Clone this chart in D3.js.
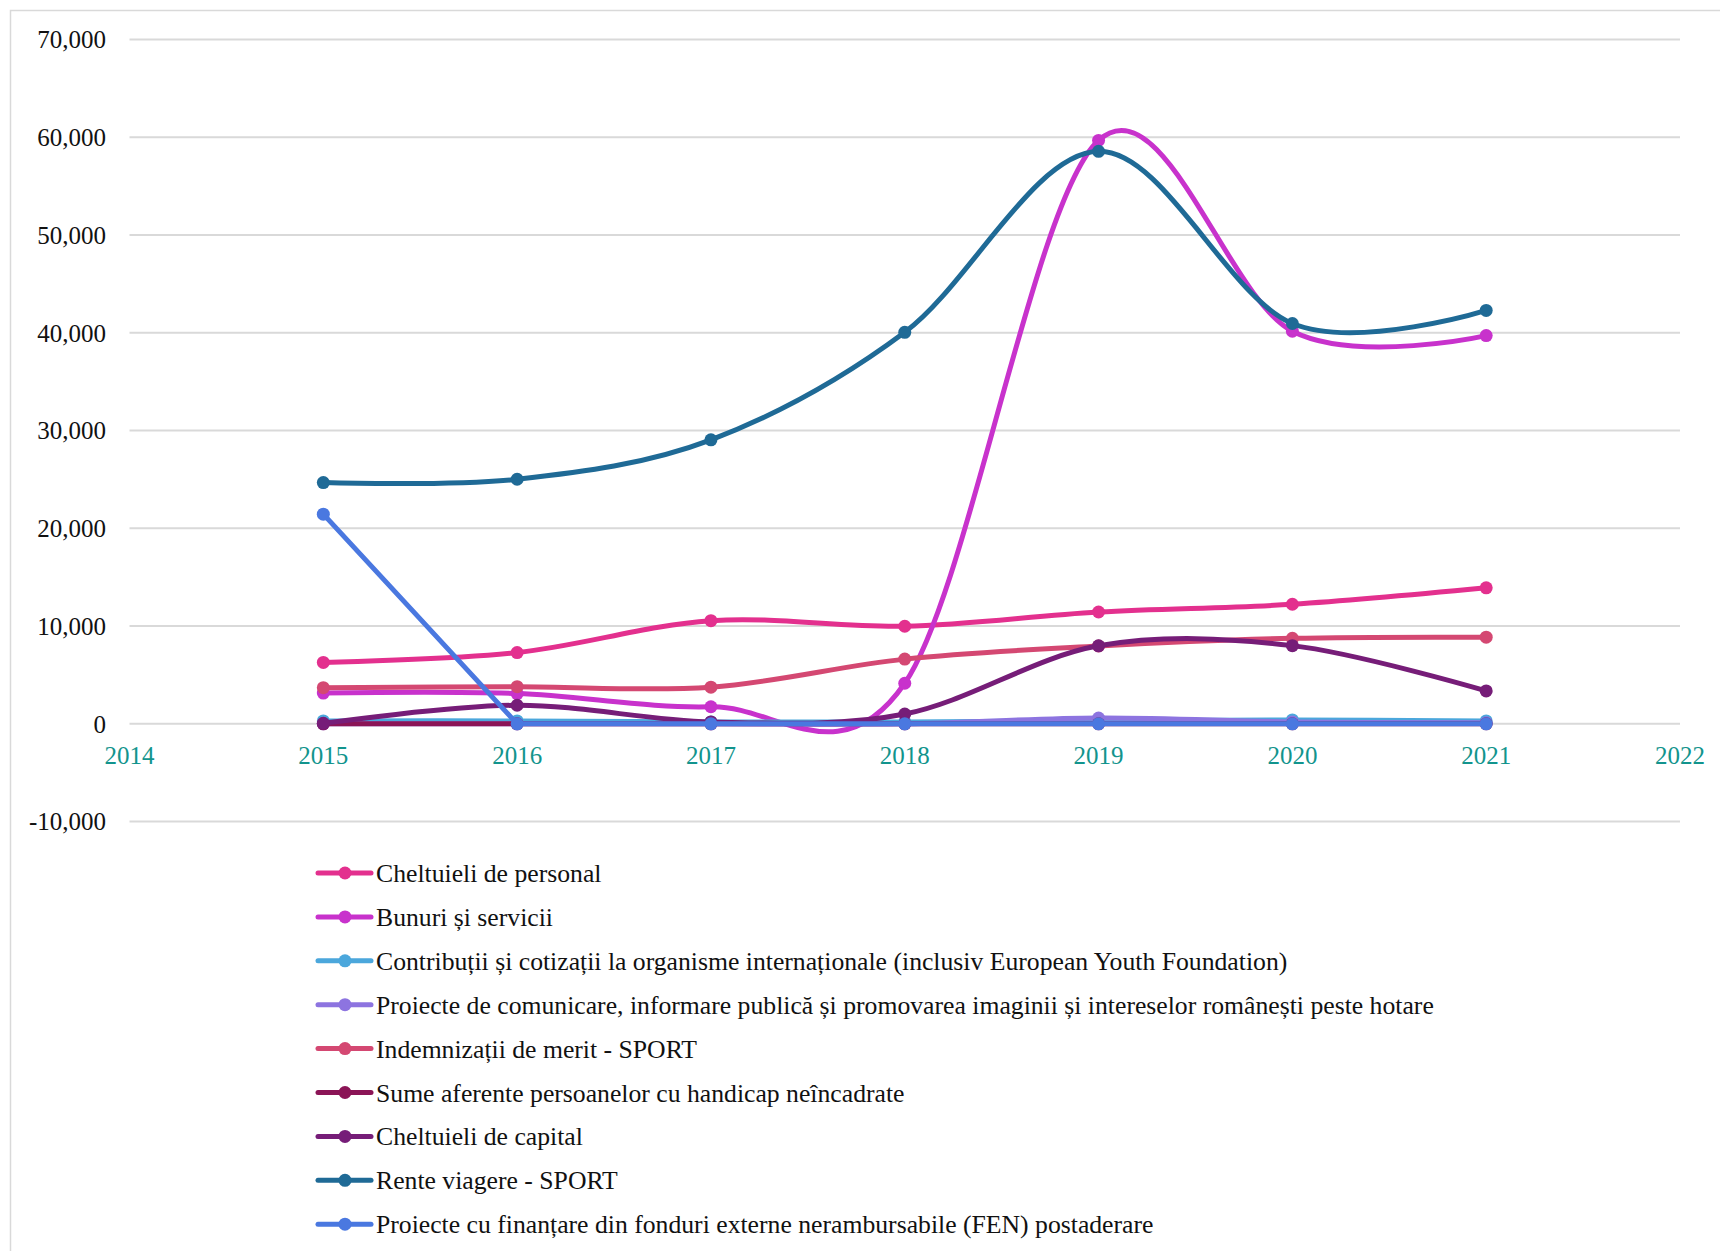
<!DOCTYPE html>
<html>
<head>
<meta charset="utf-8">
<script src="https://cdn.jsdelivr.net/npm/d3@7"></script>
<style>
  body { margin: 0; background: #fff; }
  svg text { font-family: "Liberation Serif", "DejaVu Serif", serif; }
</style>
</head>
<body>
<div id="chart"></div>
<script>
// data
var years = [2015, 2016, 2017, 2018, 2019, 2020, 2021];
var xTicks = [2014, 2015, 2016, 2017, 2018, 2019, 2020, 2021, 2022];
var yTicks = [-10000, 0, 10000, 20000, 30000, 40000, 50000, 60000, 70000];

var seriesNames = [
  "Cheltuieli de personal",
  "Bunuri și servicii",
  "Contribuții și cotizații la organisme internaționale (inclusiv European Youth Foundation)",
  "Proiecte de comunicare, informare publică și promovarea imaginii și intereselor românești peste hotare",
  "Indemnizații de merit - SPORT",
  "Sume aferente persoanelor cu handicap neîncadrate",
  "Cheltuieli de capital",
  "Rente viagere - SPORT",
  "Proiecte cu finanțare din fonduri externe nerambursabile (FEN) postaderare"
];
var seriesColors = ["#e3308e", "#c832cc", "#4ba7dc", "#8d74e0", "#d44872", "#8b1456", "#761d78", "#1f6a96", "#4a78e0"];

var personal   = [6280, 7290, 10550, 9980, 11440, 12230, 13910];
var bunuri     = [3150, 3100, 1750, 4150, 59680, 40160, 39710];
var contributii = [300, 300, 200, 200, 300, 400, 300];
var comunicare = [0, 0, 0, 0, 600, 200, 100];
var merit      = [3700, 3800, 3750, 6620, 7960, 8750, 8860];
var handicap   = [0, 0, 0, 0, 0, 0, 0];
var capital    = [50, 1900, 200, 1000, 7980, 8000, 3370];
var rente      = [24680, 25020, 29050, 40050, 58560, 40950, 42290];
var fen        = [21450, 0, 0, 0, 0, 0, 0];

var seriesValues = [personal, bunuri, contributii, comunicare, merit, handicap, capital, rente, fen];

var width = 1720,
    height = 1251;

var svg = d3.select("#chart")
  .append("svg")
    .attr("width", width)
    .attr("height", height);

// frame of the chart area (cut off at right and bottom)
svg.append("rect")
  .attr("x", 10.5).attr("y", 10.5)
  .attr("width", width).attr("height", height)
  .attr("fill", "none")
  .attr("stroke", "#d9d9d9")
  .attr("stroke-width", 1.5);

var x = d3.scaleLinear().domain([2014, 2022]).range([129.5, 1680]);
var y = d3.scaleLinear().domain([-10000, 70000]).range([821.6, 39.5]);

// gridlines
svg.selectAll(".grid")
  .data(yTicks)
  .enter()
  .append("line")
    .attr("x1", x(2014)).attr("x2", x(2022))
    .attr("y1", function(d) { return y(d); })
    .attr("y2", function(d) { return y(d); })
    .attr("stroke", "#d9d9d9")
    .attr("stroke-width", 2);

// y labels
var fmt = d3.format(",");
svg.selectAll(".ylab")
  .data(yTicks)
  .enter()
  .append("text")
    .attr("x", 106)
    .attr("y", function(d) { return y(d); })
    .attr("dy", "0.35em")
    .attr("text-anchor", "end")
    .attr("font-size", 25)
    .attr("fill", "#111")
    .text(function(d) { return fmt(d).replace("\u2212", "-"); });

// x labels, under the zero line
svg.selectAll(".xlab")
  .data(xTicks)
  .enter()
  .append("text")
    .attr("x", function(d) { return x(d); })
    .attr("y", y(0) + 31)
    .attr("dy", "0.35em")
    .attr("text-anchor", "middle")
    .attr("font-size", 25)
    .attr("fill", "#12948d")
    .text(function(d) { return d; });

// lines: Excel style smoothing, FEN drawn straight
var smooth = d3.line()
  .x(function(d, i) { return x(years[i]); })
  .y(function(d) { return y(d); })
  .curve(d3.curveCatmullRom.alpha(0));
var straight = d3.line()
  .x(function(d, i) { return x(years[i]); })
  .y(function(d) { return y(d); });

seriesValues.forEach(function(vals, k) {
  var g = svg.append("g");
  g.append("path")
    .attr("d", k == 8 ? straight(vals) : smooth(vals))
    .attr("fill", "none")
    .attr("stroke", seriesColors[k])
    .attr("stroke-width", 5)
    .attr("stroke-linejoin", "round");
  g.selectAll("circle")
    .data(vals)
    .enter()
    .append("circle")
      .attr("cx", function(d, i) { return x(years[i]); })
      .attr("cy", function(d) { return y(d); })
      .attr("r", 6.5)
      .attr("fill", seriesColors[k]);
});

// legend
var legend = svg.selectAll(".legend")
  .data(seriesNames)
  .enter()
  .append("g")
    .attr("transform", function(d, i) { return "translate(318," + (873 + i * 43.9) + ")"; });

legend.append("line")
  .attr("x1", 0).attr("x2", 53)
  .attr("stroke", function(d, i) { return seriesColors[i]; })
  .attr("stroke-width", 5)
  .attr("stroke-linecap", "round");
legend.append("circle")
  .attr("cx", 27).attr("r", 6.5)
  .attr("fill", function(d, i) { return seriesColors[i]; });
legend.append("text")
  .attr("x", 58)
  .attr("dy", "0.35em")
  .attr("font-size", 25.7)
  .attr("fill", "#111")
  .text(function(d) { return d; });
</script>
</body>
</html>
